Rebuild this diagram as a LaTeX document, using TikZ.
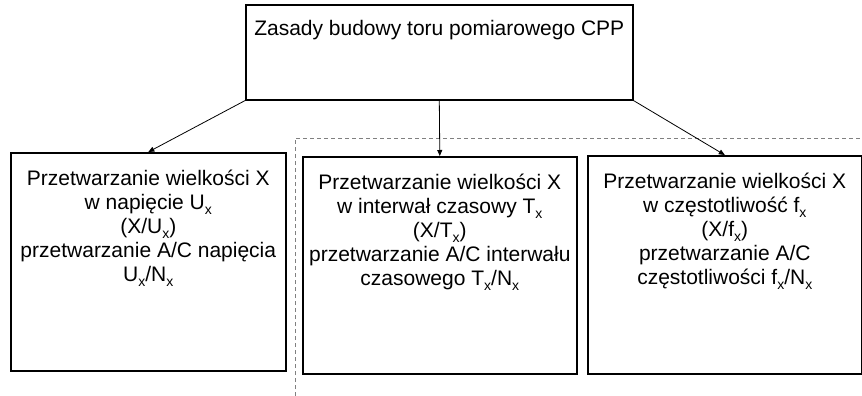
\documentclass[tikz,border=0pt]{standalone}
\usepackage{fontspec}
\setmainfont{Liberation Sans}
\usetikzlibrary{positioning, arrows.meta}
\newcommand{\ind}[1]{\raisebox{-5pt}{\fontsize{14}{14}\selectfont #1}}
\tikzset{
  blok/.style = {rectangle, draw, line width=1.6pt, inner sep=0pt, anchor=north west},
  opis/.style = {align=center, inner sep=0pt, font=\fontsize{21}{24}\selectfont},
  strz/.style = {-{Triangle[length=6pt,width=5pt]}, line width=0.8pt},
  ramka/.style = {draw=gray, line width=0.9pt, dash pattern=on 4pt off 3pt}
}

\begin{document}
\begin{tikzpicture}[x=1pt, y=-1pt]
    \useasboundingbox (0,0) rectangle (862,396);
    % ramka przerywana
    \coordinate (r_dol) at (295,396);
    \coordinate (r_rog) at (295,138);
    \coordinate (r_prawo) at (862,138);
    \draw[ramka] (r_dol) -- (r_rog) -- (r_prawo);
    % bloki
    \node[blok, minimum width=387pt, minimum height=95pt] (cpp) at (245,4) {};
    \node[blok, minimum width=275pt, minimum height=218pt] (napiecie) at (10,152) {};
    \node[blok, minimum width=274pt, minimum height=217pt] (czas) at (302,156) {};
    \node[blok, minimum width=274pt, minimum height=218pt] (czest) at (587,155) {};
    % opisy
    \node[opis, below=16pt of cpp.north] (cpp_t) {Zasady budowy toru pomiarowego CPP};
    \node[opis, below=18pt of napiecie.north] (napiecie_t)
        {Przetwarzanie wielkości X\\ w napięcie U\ind{x}\\ (X/U\ind{x})\\
         przetwarzanie A/C napięcia\\ U\ind{x}/N\ind{x}};
    \node[opis, below=18pt of czas.north] (czas_t)
        {Przetwarzanie wielkości X\\ w interwał czasowy T\ind{x}\\ (X/T\ind{x})\\
         przetwarzanie A/C interwału\\ czasowego T\ind{x}/N\ind{x}};
    \node[opis, below=18pt of czest.north] (czest_t)
        {Przetwarzanie wielkości X\\ w częstotliwość f\ind{x}\\ (X/f\ind{x})\\
         przetwarzanie A/C\\ częstotliwości f\ind{x}/N\ind{x}};
    % strzalki
    \draw[strz] (cpp.south west) -- (napiecie.north);
    \draw[strz] (cpp.south) -- (czas.north);
    \draw[strz] (cpp.south east) -- (czest.north);
\end{tikzpicture}
\end{document}
